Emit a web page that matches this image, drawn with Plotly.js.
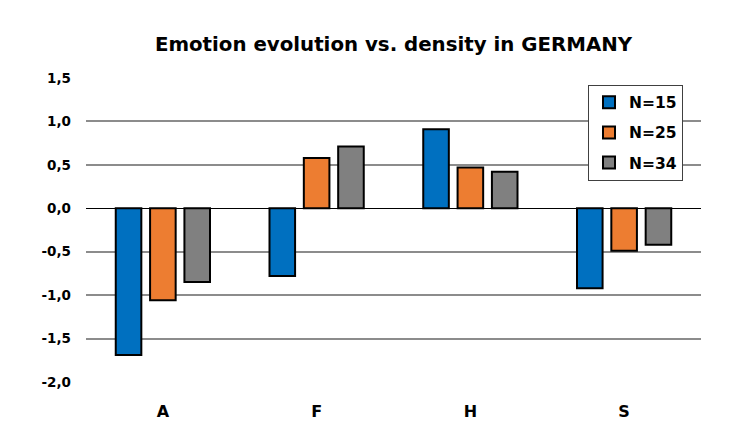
<!DOCTYPE html>
<html>
<head>
<meta charset="utf-8">
<script src="https://cdn.plot.ly/plotly-3.0.1.min.js"></script>
<style>html,body{margin:0;padding:0;background:#fff;}#chart{width:744px;height:447px;}</style>
</head>
<body>
<div id="chart"></div>
<script>
const categories = ['A', 'F', 'H', 'S'];
const seriesNames = ['N=15', 'N=25', 'N=34'];
const n15 = [-1.69, -0.78, 0.91, -0.92];
const n25 = [-1.06, 0.58, 0.47, -0.49];
const n34 = [-0.85, 0.71, 0.42, -0.42];
const yTicks = [-2.0, -1.5, -1.0, -0.5, 0.0, 0.5, 1.0, 1.5];

const FONT = 'DejaVu Sans, Liberation Sans, Arial, sans-serif';
const colors = ['#0070C0', '#ED7D31', '#808080'];
const values = [n15, n25, n34];

const traces = values.map((v, i) => ({
  type: 'bar',
  x: categories,
  y: v,
  name: '<b>' + seriesNames[i] + '</b>',
  legendgroup: 'g' + i,
  marker: { color: colors[i], line: { color: '#000000', width: 2 } }
}));

const layout = {
  width: 744,
  height: 447,
  margin: { l: 86, r: 43, t: 78, b: 65, pad: 0 },
  paper_bgcolor: '#ffffff',
  plot_bgcolor: '#ffffff',
  font: { family: FONT, color: '#000000' },
  title: {
    text: '<b>Emotion evolution vs. density in GERMANY</b>',
    font: { size: 19.8, family: FONT, color: '#000000' },
    x: 393.5 / 744, xref: 'container', xanchor: 'center',
    y: 1 - 44 / 447, yref: 'container', yanchor: 'middle'
  },
  barmode: 'group',
  bargap: 0.33,
  bargroupgap: 0.255,
  xaxis: {
    type: 'category',
    tickmode: 'array',
    tickvals: categories,
    ticktext: categories.map(c => '<b>' + c + '</b>'),
    showgrid: false,
    showline: false,
    zeroline: false,
    ticks: '',
    ticklabelstandoff: 18,
    tickfont: { size: 16, family: FONT, color: '#000000' }
  },
  yaxis: {
    range: [-2.0, 1.5],
    tickmode: 'array',
    tickvals: yTicks,
    ticktext: yTicks.map(v => '<b>' + v.toFixed(1).replace('.', ',') + '</b>'),
    showgrid: true,
    gridcolor: '#8c8c8c',
    gridwidth: 2,
    zeroline: true,
    zerolinecolor: '#000000',
    zerolinewidth: 1.5,
    showline: false,
    ticks: '',
    ticklabelstandoff: 14,
    tickfont: { size: 13.5, family: FONT, color: '#000000' }
  },
  showlegend: true,
  legend: {
    x: (588 - 86) / 615, xanchor: 'left',
    y: (381.7 - 85) / 303.4, yanchor: 'top',
    bgcolor: '#ffffff',
    bordercolor: '#404040',
    borderwidth: 1,
    tracegroupgap: 7,
    traceorder: 'grouped',
    font: { size: 15.5, family: FONT, color: '#000000' }
  }
};

Plotly.newPlot('chart', traces, layout, { displayModeBar: false, staticPlot: true });
</script>
</body>
</html>
